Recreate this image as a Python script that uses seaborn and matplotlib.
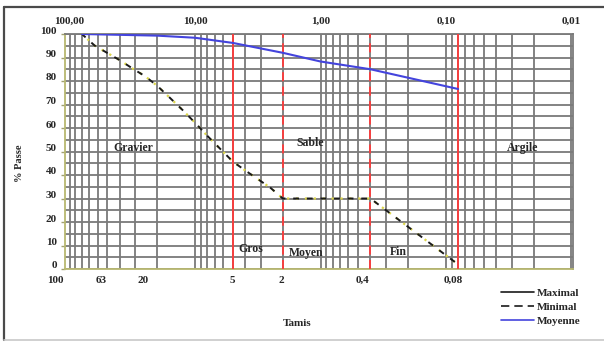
#!/usr/bin/env python3
"""Courbe granulometrique: fuseau minimal / moyenne avec zones Gravier-Sable-Argile."""

import matplotlib
import numpy as np
import pandas as pd
import seaborn as sns

matplotlib.use("Agg")
import matplotlib.pyplot as plt
from matplotlib.lines import Line2D
from matplotlib.ticker import FixedLocator, LogLocator, MultipleLocator, NullFormatter
from matplotlib import transforms

# --- data ----------------------------------------------------------------
MIN_SIZES = [80, 63, 50, 40, 31.5, 25, 20, 16, 12.5, 10, 8, 6.3, 5, 4, 3.15, 2.5, 2, 0.4, 0.085]
MIN_PASS = [100, 95, 91.9, 88.9, 85.3, 82, 77.9, 73, 67.5, 62.2, 56.7, 51.1, 45.7, 42, 38.2, 34.5, 30, 30, 3]

MEAN_SIZES = [80, 20, 10, 5, 2, 1, 0.4, 0.08]
MEAN_PASS = [100, 99.3, 98.4, 96.2, 92, 88.3, 85, 76.6]

LIMIT_SIZES = [5, 2, 0.4, 0.08]
LIMIT_STYLES = ["-", (0, (5, 3)), (0, (5, 3)), "-"]

TOP_TICKS = [100, 10, 1, 0.1, 0.01]
TOP_LABELS = ["100,00", "10,00", "1,00", "0,10", "0,01"]

BOTTOM_LABELS = ["100", "63", "20", "5", "2", "0,4", "0,08"]
BOTTOM_LABEL_X = [-0.018, 0.071, 0.154, 0.329, 0.425, 0.585, 0.764]

ZONE_LABELS = ["Gravier", "Sable", "Argile", "Gros", "Moyen", "Fin"]
ZONE_XY = [(0.134, 0.515), (0.482, 0.536), (0.900, 0.515),
           (0.366, 0.085), (0.475, 0.070), (0.656, 0.072)]

LEGEND_LABELS = ["Maximal", "Minimal", "Moyenne"]

RED = "#ff3a3a"
GRID = "#7a7a7a"
BLUE = "#4444dd"

sns.set_style("white")
plt.rcParams["font.family"] = ["Liberation Serif", "DejaVu Serif"]
plt.rcParams["font.weight"] = "bold"
plt.rcParams["font.size"] = 8

min_df = pd.DataFrame({"tamis": MIN_SIZES, "passe": MIN_PASS})
mean_df = pd.DataFrame({"tamis": MEAN_SIZES, "passe": MEAN_PASS})

fig = plt.figure(figsize=(6.04, 3.43), dpi=100)
ax = fig.add_axes([65 / 604, 1 - 269 / 343, 508 / 604, 235 / 343])

ax.set_xscale("log")
ax.set_xlim(109, 0.0097)
ax.set_ylim(0, 100)

# grid
ax.xaxis.set_minor_locator(LogLocator(base=10, subs=np.arange(2, 10)))
ax.xaxis.set_minor_formatter(NullFormatter())
ax.yaxis.set_major_locator(MultipleLocator(10))
ax.yaxis.set_minor_locator(MultipleLocator(5))
ax.grid(True, which="both", color=GRID, linewidth=1.3)
ax.set_axisbelow(True)

# limits between classes
for size, ls in zip(LIMIT_SIZES, LIMIT_STYLES):
    ax.axvline(size, color=RED, linestyle=ls, linewidth=1.3, zorder=3)

# curves
sns.lineplot(data=min_df, x="tamis", y="passe", ax=ax, color="#dcd64a",
             linewidth=1.6, linestyle=(0, (1, 3)), zorder=4)
sns.lineplot(data=min_df, x="tamis", y="passe", ax=ax, color="#1a1a1a",
             linewidth=1.4, linestyle=(0, (3, 4)), zorder=5)
sns.lineplot(data=mean_df, x="tamis", y="passe", ax=ax, color=BLUE,
             linewidth=1.5, zorder=5)

# axes cosmetics
ax.xaxis.tick_top()
ax.xaxis.set_major_locator(FixedLocator(TOP_TICKS))
ax.set_xticklabels(TOP_LABELS)
ax.tick_params(axis="x", which="both", length=0, pad=6, labelsize=8)
ax.tick_params(axis="y", which="major", length=3, width=1, color="#a0a070",
               left=True, pad=3, labelsize=8)
ax.tick_params(axis="y", which="minor", length=0)
ax.set_xlabel("")
ax.set_ylabel("")
shift = transforms.ScaledTranslation(0, 4 / 100, fig.dpi_scale_trans)
for lab in ax.get_yticklabels():
    lab.set_transform(lab.get_transform() + shift)

for side in ["top", "right"]:
    ax.spines[side].set_color(GRID)
    ax.spines[side].set_linewidth(1.3)
for side in ["left", "bottom"]:
    ax.spines[side].set_color("#b8b870")
    ax.spines[side].set_linewidth(1.3)

for text, (xf, yf) in zip(ZONE_LABELS, ZONE_XY):
    ax.text(xf, yf, text, transform=ax.transAxes, ha="center", va="center",
            fontsize=8.5, fontweight="bold")

for text, xf in zip(BOTTOM_LABELS, BOTTOM_LABEL_X):
    ax.text(xf, -0.048, text, transform=ax.transAxes, ha="center", va="center",
            fontsize=8, fontweight="bold")

fig.text(297 / 604, 1 - 323 / 343, "Tamis", ha="center", va="center", fontsize=8)
fig.text(19 / 604, 1 - 163 / 343, "% Passe", ha="center", va="center",
         rotation=90, fontsize=7.5)

handles = [
    Line2D([], [], color="#1a1a1a", linewidth=1.2),
    Line2D([], [], color="#1a1a1a", linewidth=1.2, linestyle=(0, (5, 3))),
    Line2D([], [], color=BLUE, linewidth=1.2),
]
fig.legend(handles, LEGEND_LABELS, loc="upper left",
           bbox_to_anchor=(495 / 604, 1 - 283 / 343), frameon=False,
           handlelength=3.0, handletextpad=0.3, labelspacing=0.38,
           borderpad=0, fontsize=8)

# outer frame
fig.add_artist(Line2D([4 / 604, 4 / 604], [1 - 7 / 343, 1 - 340 / 343],
                      transform=fig.transFigure, color="#4a4a4a", linewidth=1.6))
fig.add_artist(Line2D([4 / 604, 1.0], [1 - 7 / 343, 1 - 7 / 343],
                      transform=fig.transFigure, color="#4a4a4a", linewidth=1.6))
fig.add_artist(Line2D([4 / 604, 1.0], [1 - 340 / 343, 1 - 340 / 343],
                      transform=fig.transFigure, color="#c8c8c8", linewidth=1.2))

fig.savefig("out.png", dpi=100)
